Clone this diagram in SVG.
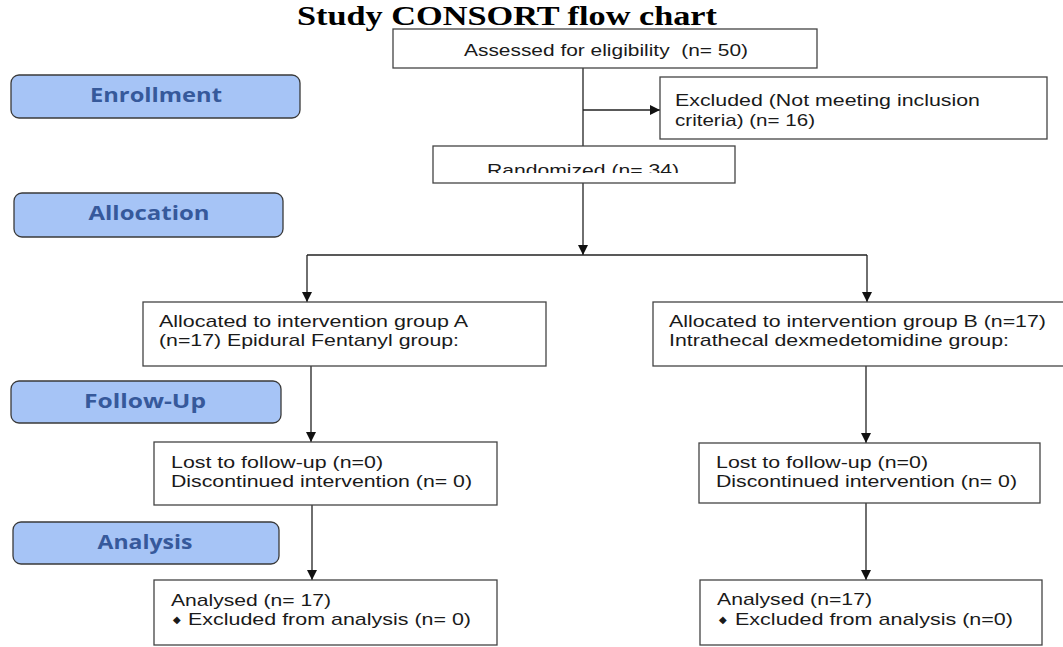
<svg xmlns="http://www.w3.org/2000/svg" width="1063" height="647" viewBox="0 0 1063 647">
<style>
.box{fill:#fff;stroke:#444;stroke-width:1.3}
.lbl{fill:#a6c4f6;stroke:#3a3a3a;stroke-width:1.3}
.t{font-family:"Liberation Sans",Arial,sans-serif;font-size:17px;fill:#1a1a1a}
.lt{font-family:"Open Sans","DejaVu Sans",sans-serif;font-size:19px;font-weight:bold;fill:#36599b;text-anchor:middle}
.title{font-family:"Liberation Serif","Times New Roman",serif;font-size:27px;font-weight:bold;fill:#000}
.c{stroke:#222;stroke-width:1.3;fill:none}
.b{font-family:"DejaVu Sans",sans-serif;font-size:10px;fill:#1a1a1a}
</style>
<defs>
<marker id="ah" viewBox="0 0 10 10" refX="10" refY="5" markerWidth="10" markerHeight="10" markerUnits="userSpaceOnUse" orient="auto">
<path d="M0,0 L10,5 L0,10 z" fill="#111"/>
</marker>
<clipPath id="rclip"><rect x="433" y="146" width="302" height="27"/></clipPath>
</defs>
<rect width="1063" height="647" fill="#fff"/>
<text class="title" x="297" y="25" textLength="420" lengthAdjust="spacingAndGlyphs">Study CONSORT flow chart</text>

<g id="label-enrollment"><rect class="lbl" x="11" y="75" width="289" height="43" rx="8"/><text class="lt" x="156" y="102" textLength="132" lengthAdjust="spacingAndGlyphs">Enrollment</text></g>
<g id="label-allocation"><rect class="lbl" x="14" y="193" width="269" height="44" rx="8"/><text class="lt" x="149" y="220" textLength="121" lengthAdjust="spacingAndGlyphs">Allocation</text></g>
<g id="label-followup"><rect class="lbl" x="11" y="381" width="270" height="42" rx="8"/><text class="lt" x="145" y="408" textLength="122" lengthAdjust="spacingAndGlyphs">Follow-Up</text></g>
<g id="label-analysis"><rect class="lbl" x="13" y="522" width="266" height="42" rx="8"/><text class="lt" x="145" y="549" textLength="95" lengthAdjust="spacingAndGlyphs">Analysis</text></g>

<g id="connectors">
<line class="c" x1="583" y1="68" x2="583" y2="146"/>
<line class="c" x1="583" y1="110" x2="660" y2="110" marker-end="url(#ah)"/>
<line class="c" x1="583" y1="183" x2="583" y2="255" marker-end="url(#ah)"/>
<polyline class="c" points="307,255 867,255"/>
<line class="c" x1="307" y1="255" x2="307" y2="302" marker-end="url(#ah)"/>
<line class="c" x1="867" y1="255" x2="867" y2="302" marker-end="url(#ah)"/>
<line class="c" x1="311" y1="366" x2="311" y2="442" marker-end="url(#ah)"/>
<line class="c" x1="312" y1="505" x2="312" y2="580" marker-end="url(#ah)"/>
<line class="c" x1="866" y1="366" x2="866" y2="443" marker-end="url(#ah)"/>
<line class="c" x1="866" y1="503" x2="866" y2="580" marker-end="url(#ah)"/>
</g>

<g id="assessed"><rect class="box" x="393" y="29" width="424" height="39"/><text class="t" x="464" y="56" textLength="284" lengthAdjust="spacingAndGlyphs">Assessed for eligibility&#160; (n= 50)</text></g>
<g id="excluded"><rect class="box" x="660" y="77" width="387" height="62"/><text class="t" x="675" y="106" textLength="305" lengthAdjust="spacingAndGlyphs">Excluded (Not meeting inclusion</text><text class="t" x="675" y="126" textLength="140" lengthAdjust="spacingAndGlyphs">criteria) (n= 16)</text></g>
<g id="randomized"><rect class="box" x="433" y="146" width="302" height="37"/><text class="t" x="487" y="176" textLength="192" lengthAdjust="spacingAndGlyphs" clip-path="url(#rclip)">Randomized (n= 34)</text></g>
<g id="group-a"><rect class="box" x="143" y="302" width="403" height="64"/><text class="t" x="159" y="327" textLength="309" lengthAdjust="spacingAndGlyphs">Allocated to intervention group A</text><text class="t" x="159" y="346" textLength="300" lengthAdjust="spacingAndGlyphs">(n=17) Epidural Fentanyl group:</text></g>
<g id="group-b"><rect class="box" x="653" y="302" width="430" height="64"/><text class="t" x="669" y="327" textLength="377" lengthAdjust="spacingAndGlyphs">Allocated to intervention group B (n=17)</text><text class="t" x="669" y="346" textLength="340" lengthAdjust="spacingAndGlyphs">Intrathecal dexmedetomidine group:</text></g>
<g id="lost-a"><rect class="box" x="154" y="442" width="343" height="63"/><text class="t" x="171" y="468" textLength="212" lengthAdjust="spacingAndGlyphs">Lost to follow-up (n=0)</text><text class="t" x="171" y="487" textLength="301" lengthAdjust="spacingAndGlyphs">Discontinued intervention (n= 0)</text></g>
<g id="lost-b"><rect class="box" x="699" y="443" width="341" height="60"/><text class="t" x="716" y="468" textLength="212" lengthAdjust="spacingAndGlyphs">Lost to follow-up (n=0)</text><text class="t" x="716" y="487" textLength="301" lengthAdjust="spacingAndGlyphs">Discontinued intervention (n= 0)</text></g>
<g id="analysed-a"><rect class="box" x="154" y="580" width="343" height="65"/><text class="t" x="171" y="606" textLength="160" lengthAdjust="spacingAndGlyphs">Analysed (n= 17)</text><text class="b" x="173" y="623">◆</text><text class="t" x="188" y="625" textLength="283" lengthAdjust="spacingAndGlyphs">Excluded from analysis (n= 0)</text></g>
<g id="analysed-b"><rect class="box" x="700" y="580" width="342" height="65"/><text class="t" x="717" y="605" textLength="155" lengthAdjust="spacingAndGlyphs">Analysed (n=17)</text><text class="b" x="719" y="623">◆</text><text class="t" x="735" y="625" textLength="278" lengthAdjust="spacingAndGlyphs">Excluded from analysis (n=0)</text></g>
</svg>
